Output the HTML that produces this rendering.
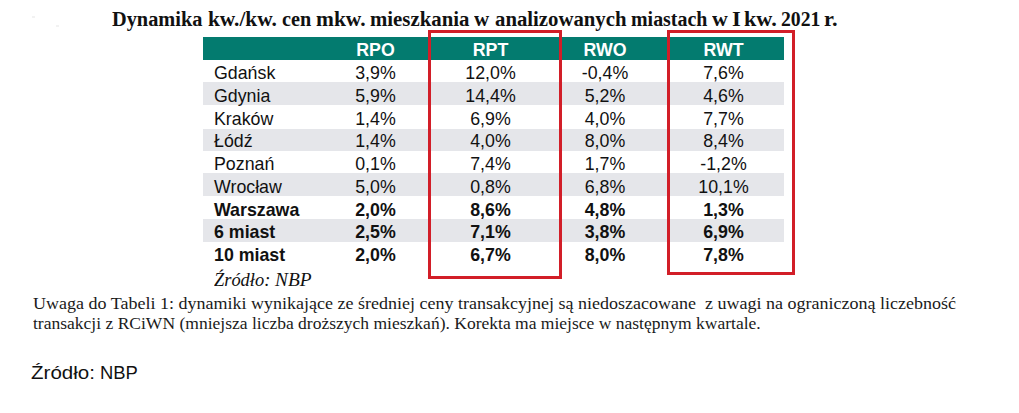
<!DOCTYPE html>
<html><head><meta charset="utf-8">
<style>
*{margin:0;padding:0;box-sizing:border-box}
html,body{width:1019px;height:413px;background:#fff;overflow:hidden}
body{position:relative;font-family:"Liberation Sans",sans-serif;color:#111}
.title{position:absolute;left:112px;top:8.2px;font-family:"Liberation Serif",serif;font-weight:bold;font-size:20px;white-space:nowrap;color:#111}
.tw{position:absolute;top:0;transform:scaleX(1.082);transform-origin:0 0}
.tbl{position:absolute;left:203px;top:37px;width:581px}
.row{position:absolute;left:0;width:581px;height:22.76px;font-size:17.8px;white-space:nowrap}
.band{position:absolute;left:0;width:581px;background:#e5e6ea}
.row.h{background:#037b6f;color:#fff;font-weight:bold;height:23px;top:0}
.row.b{font-weight:bold}
.c{position:absolute;top:2.3px;line-height:22.76px;text-align:center}
.c0{left:11px;text-align:left}
.c1{left:114px;width:117px}
.c2{left:231px;width:113px}
.c3{left:344px;width:116px}
.c4{left:460px;width:121px}
.box{position:absolute;border:3px solid #d21e28}
.sp{position:absolute;background:#f2f2f2}
.src{position:absolute;top:269.5px;transform-origin:0 0;font-family:"Liberation Serif",serif;font-style:italic;font-size:18.5px;white-space:nowrap}
.note{position:absolute;left:33px;font-family:"Liberation Serif",serif;font-size:17.5px;line-height:20px;white-space:nowrap;color:#1a1a1a;transform-origin:0 0}
.src2{position:absolute;top:362px;font-size:19.2px;transform-origin:0 0;white-space:nowrap;color:#111}
</style></head><body>
<div class="sp" style="left:32px;top:16px;width:3px;height:2px"></div><div class="sp" style="left:56px;top:25px;width:3px;height:2px"></div>
<div class="title"><span class="tw" style="left:-0.2px;transform:scaleX(1.017)">Dynamika</span><span class="tw" style="left:95.6px;transform:scaleX(1.067)">kw./kw.</span><span class="tw" style="left:169.9px;transform:scaleX(1.011)">cen</span><span class="tw" style="left:204.1px;transform:scaleX(1.073)">mkw.</span><span class="tw" style="left:257.8px;transform:scaleX(1.040)">mieszkania</span><span class="tw" style="left:362.1px;transform:scaleX(1.050)">w</span><span class="tw" style="left:382.5px;transform:scaleX(1.038)">analizowanych</span><span class="tw" style="left:518.5px;transform:scaleX(0.996)">miastach</span><span class="tw" style="left:599.8px;transform:scaleX(1.093)">w</span><span class="tw" style="left:620.3px;transform:scaleX(1.133)">I</span><span class="tw" style="left:632.2px;transform:scaleX(1.111)">kw.</span><span class="tw" style="left:669.0px;transform:scaleX(0.984)">2021</span><span class="tw" style="left:711.9px;transform:scaleX(1.120)">r.</span></div>
<div class="tbl">
<div class="band" style="top:45px;height:23px"></div><div class="band" style="top:92px;height:22px"></div><div class="band" style="top:136px;height:23px"></div><div class="band" style="top:182px;height:23px"></div>
<div class="row h"><span class="c c1 m">RPO</span><span class="c c2">RPT</span><span class="c c3">RWO</span><span class="c c4">RWT</span></div>
<div class="row" style="top:22.76px"><span class="c c0 m">Gdańsk</span><span class="c c1 m">3,9%</span><span class="c c2">12,0%</span><span class="c c3">-0,4%</span><span class="c c4">7,6%</span></div>
<div class="row" style="top:45.52px"><span class="c c0">Gdynia</span><span class="c c1">5,9%</span><span class="c c2">14,4%</span><span class="c c3">5,2%</span><span class="c c4">4,6%</span></div>
<div class="row" style="top:68.28px"><span class="c c0">Kraków</span><span class="c c1">1,4%</span><span class="c c2">6,9%</span><span class="c c3">4,0%</span><span class="c c4">7,7%</span></div>
<div class="row" style="top:91.04px"><span class="c c0">Łódź</span><span class="c c1">1,4%</span><span class="c c2">4,0%</span><span class="c c3">8,0%</span><span class="c c4">8,4%</span></div>
<div class="row" style="top:113.80px"><span class="c c0">Poznań</span><span class="c c1">0,1%</span><span class="c c2">7,4%</span><span class="c c3">1,7%</span><span class="c c4">-1,2%</span></div>
<div class="row" style="top:136.56px"><span class="c c0">Wrocław</span><span class="c c1">5,0%</span><span class="c c2">0,8%</span><span class="c c3">6,8%</span><span class="c c4">10,1%</span></div>
<div class="row b" style="top:159.32px"><span class="c c0">Warszawa</span><span class="c c1">2,0%</span><span class="c c2">8,6%</span><span class="c c3">4,8%</span><span class="c c4">1,3%</span></div>
<div class="row b" style="top:182.08px"><span class="c c0">6 miast</span><span class="c c1">2,5%</span><span class="c c2">7,1%</span><span class="c c3">3,8%</span><span class="c c4">6,9%</span></div>
<div class="row b" style="top:204.84px"><span class="c c0">10 miast</span><span class="c c1">2,0%</span><span class="c c2">6,7%</span><span class="c c3">8,0%</span><span class="c c4">7,8%</span></div>
</div>
<div class="src" style="left:214px;transform:scaleX(0.995)">Źródło:</div><div class="src" style="left:274.6px;transform:scaleX(1.046)">NBP</div>
<div class="box" style="left:428px;top:30px;width:134px;height:249px"></div>
<div class="box" style="left:667px;top:30px;width:128px;height:245px"></div>
<div class="note" style="top:293px;transform:scaleX(1.029)"><span class="m">Uwaga do Tabeli 1: dynamiki wynikające ze średniej ceny transakcyjnej są niedoszacowane&nbsp; z uwagi na ograniczoną liczebność</span></div>
<div class="note" style="top:313px;transform:scaleX(1.001)"><span class="m">transakcji z RCiWN (mniejsza liczba droższych mieszkań). Korekta ma miejsce w następnym kwartale.</span></div>
<div class="src2" style="left:31px;transform:scaleX(1.07)"><span class="m">Źródło:</span></div><div class="src2" style="left:99.9px;transform:scaleX(0.96)"><span class="m">NBP</span></div>
</body></html>
